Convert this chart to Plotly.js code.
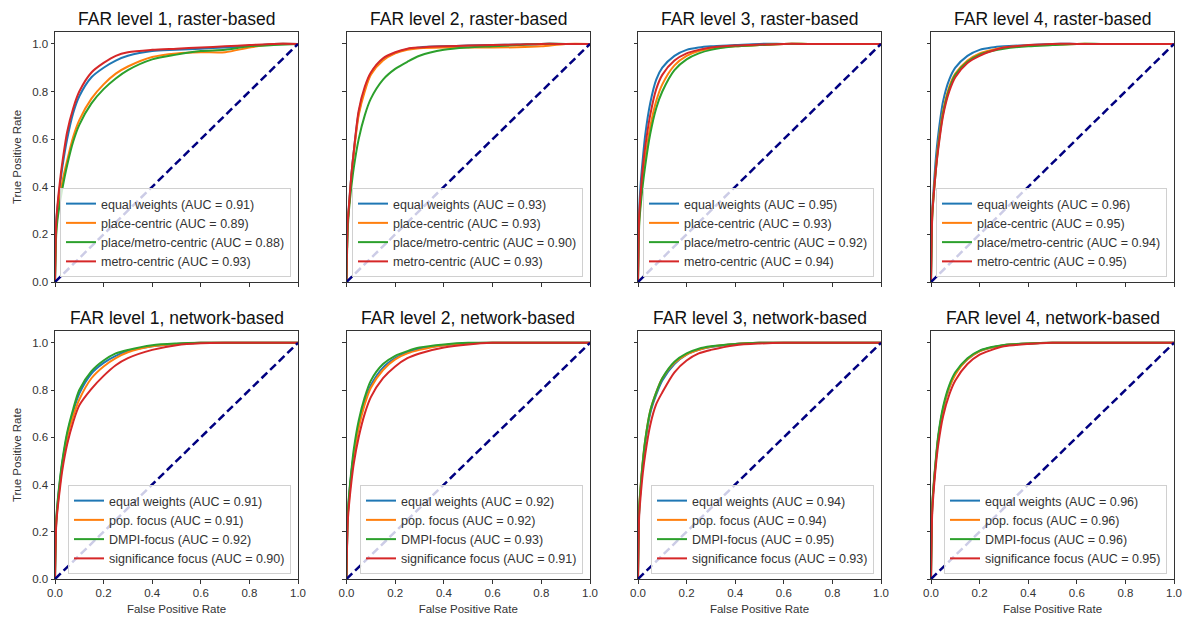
<!DOCTYPE html>
<html><head><meta charset="utf-8">
<script src="https://cdn.plot.ly/plotly-3.0.1.min.js"></script>
<style>html,body{margin:0;padding:0;background:#fff}#chart{width:1191px;height:620px}</style>
</head><body><div id="chart"></div>
<script>
// ---------- DATA ----------
const fpr = [0, 0.005, 0.01, 0.02, 0.03, 0.05, 0.075, 0.1, 0.15, 0.2, 0.25, 0.3, 0.4, 0.5, 0.6, 0.7, 0.8, 0.9, 1.0];
const chanceX = [0, 1];
const chanceY = [0, 1];

const panelTitles = [
  'FAR level 1, raster-based', 'FAR level 2, raster-based', 'FAR level 3, raster-based', 'FAR level 4, raster-based',
  'FAR level 1, network-based', 'FAR level 2, network-based', 'FAR level 3, network-based', 'FAR level 4, network-based'
];
const rasterNames = ['equal weights', 'place-centric', 'place/metro-centric', 'metro-centric'];
const networkNames = ['equal weights', 'pop. focus', 'DMPI-focus', 'significance focus'];

const aucRasterL1 = [0.91, 0.89, 0.88, 0.93];
const aucRasterL2 = [0.93, 0.93, 0.90, 0.93];
const aucRasterL3 = [0.95, 0.93, 0.92, 0.94];
const aucRasterL4 = [0.96, 0.95, 0.94, 0.95];
const aucNetworkL1 = [0.91, 0.91, 0.92, 0.90];
const aucNetworkL2 = [0.92, 0.92, 0.93, 0.91];
const aucNetworkL3 = [0.94, 0.94, 0.95, 0.93];
const aucNetworkL4 = [0.96, 0.96, 0.96, 0.95];

// TPR values read at the fpr points above
const rasterL1Equal      = [0, 0.25, 0.31, 0.40, 0.48, 0.60, 0.71, 0.78, 0.86, 0.90, 0.93, 0.95, 0.97, 0.975, 0.98, 0.985, 0.99, 1.0, 1.0];
const rasterL1Place      = [0, 0.22, 0.28, 0.36, 0.42, 0.51, 0.61, 0.68, 0.77, 0.83, 0.875, 0.905, 0.945, 0.96, 0.965, 0.965, 0.985, 1.0, 1.0];
const rasterL1PlaceMetro = [0, 0.20, 0.26, 0.33, 0.39, 0.49, 0.59, 0.66, 0.75, 0.81, 0.855, 0.89, 0.935, 0.955, 0.97, 0.975, 0.99, 0.995, 1.0];
const rasterL1Metro      = [0, 0.25, 0.32, 0.42, 0.50, 0.63, 0.73, 0.80, 0.88, 0.92, 0.95, 0.965, 0.975, 0.98, 0.985, 0.99, 0.995, 1.0, 1.0];

const rasterL2Equal      = [0, 0.25, 0.32, 0.45, 0.55, 0.71, 0.81, 0.875, 0.935, 0.962, 0.978, 0.985, 0.99, 0.993, 0.995, 0.997, 1, 1, 1];
const rasterL2Place      = [0, 0.24, 0.31, 0.44, 0.54, 0.70, 0.80, 0.87, 0.93, 0.96, 0.975, 0.982, 0.985, 0.985, 0.985, 0.986, 0.99, 1, 1];
const rasterL2PlaceMetro = [0, 0.22, 0.30, 0.40, 0.48, 0.60, 0.70, 0.77, 0.85, 0.895, 0.925, 0.95, 0.975, 0.985, 0.99, 0.995, 1, 1, 1];
const rasterL2Metro      = [0, 0.25, 0.32, 0.45, 0.55, 0.72, 0.82, 0.88, 0.94, 0.965, 0.98, 0.985, 0.99, 0.993, 0.995, 0.997, 1, 1, 1];

const rasterL3Equal      = [0, 0.30, 0.40, 0.52, 0.62, 0.75, 0.85, 0.90, 0.95, 0.975, 0.985, 0.99, 0.995, 1, 1, 1, 1, 1, 1];
const rasterL3Place      = [0, 0.26, 0.33, 0.44, 0.52, 0.65, 0.76, 0.83, 0.91, 0.95, 0.97, 0.98, 0.99, 0.995, 1, 1, 1, 1, 1];
const rasterL3PlaceMetro = [0, 0.24, 0.31, 0.41, 0.49, 0.62, 0.73, 0.80, 0.89, 0.935, 0.96, 0.975, 0.99, 0.995, 1, 1, 1, 1, 1];
const rasterL3Metro      = [0, 0.28, 0.36, 0.48, 0.57, 0.70, 0.81, 0.87, 0.93, 0.96, 0.975, 0.985, 0.993, 0.997, 1, 1, 1, 1, 1];

const rasterL4Equal      = [0, 0.30, 0.38, 0.52, 0.62, 0.76, 0.85, 0.90, 0.95, 0.975, 0.985, 0.99, 0.995, 1, 1, 1, 1, 1, 1];
const rasterL4Place      = [0, 0.28, 0.36, 0.48, 0.58, 0.72, 0.82, 0.875, 0.93, 0.96, 0.975, 0.985, 0.993, 0.997, 1, 1, 1, 1, 1];
const rasterL4PlaceMetro = [0, 0.27, 0.35, 0.47, 0.57, 0.71, 0.81, 0.87, 0.925, 0.955, 0.97, 0.98, 0.99, 0.995, 1, 1, 1, 1, 1];
const rasterL4Metro      = [0, 0.28, 0.35, 0.47, 0.56, 0.70, 0.80, 0.86, 0.92, 0.95, 0.97, 0.985, 0.995, 1, 1, 1, 1, 1, 1];

const networkL1Equal  = [0, 0.24, 0.31, 0.41, 0.49, 0.61, 0.71, 0.785, 0.87, 0.915, 0.945, 0.965, 0.985, 0.995, 1, 1, 1, 1, 1];
const networkL1Pop    = [0, 0.24, 0.30, 0.40, 0.48, 0.60, 0.69, 0.76, 0.85, 0.90, 0.935, 0.96, 0.985, 0.995, 1, 1, 1, 1, 1];
const networkL1Dmpi   = [0, 0.25, 0.32, 0.42, 0.50, 0.62, 0.72, 0.80, 0.88, 0.925, 0.955, 0.97, 0.99, 0.997, 1, 1, 1, 1, 1];
const networkL1Signif = [0, 0.23, 0.29, 0.38, 0.46, 0.57, 0.665, 0.735, 0.805, 0.86, 0.905, 0.935, 0.97, 0.99, 0.998, 1, 1, 1, 1];

const networkL2Equal  = [0, 0.26, 0.34, 0.45, 0.53, 0.65, 0.75, 0.82, 0.895, 0.935, 0.96, 0.975, 0.99, 0.998, 1, 1, 1, 1, 1];
const networkL2Pop    = [0, 0.26, 0.33, 0.44, 0.52, 0.64, 0.74, 0.81, 0.885, 0.93, 0.955, 0.97, 0.99, 0.997, 1, 1, 1, 1, 1];
const networkL2Dmpi   = [0, 0.27, 0.35, 0.46, 0.55, 0.67, 0.77, 0.84, 0.91, 0.945, 0.965, 0.98, 0.993, 1, 1, 1, 1, 1, 1];
const networkL2Signif = [0, 0.24, 0.31, 0.41, 0.49, 0.60, 0.70, 0.77, 0.85, 0.90, 0.935, 0.955, 0.98, 0.993, 1, 1, 1, 1, 1];

const networkL3Equal  = [0, 0.29, 0.37, 0.49, 0.58, 0.70, 0.78, 0.84, 0.91, 0.95, 0.97, 0.982, 0.995, 1, 1, 1, 1, 1, 1];
const networkL3Pop    = [0, 0.30, 0.38, 0.50, 0.59, 0.71, 0.79, 0.85, 0.915, 0.95, 0.97, 0.983, 0.995, 1, 1, 1, 1, 1, 1];
const networkL3Dmpi   = [0, 0.30, 0.38, 0.50, 0.59, 0.71, 0.79, 0.85, 0.92, 0.955, 0.975, 0.985, 0.995, 1, 1, 1, 1, 1, 1];
const networkL3Signif = [0, 0.27, 0.34, 0.45, 0.53, 0.65, 0.74, 0.79, 0.875, 0.925, 0.955, 0.97, 0.99, 0.997, 1, 1, 1, 1, 1];

const networkL4Equal  = [0, 0.30, 0.38, 0.50, 0.60, 0.72, 0.81, 0.87, 0.93, 0.965, 0.98, 0.99, 0.997, 1, 1, 1, 1, 1, 1];
const networkL4Pop    = [0, 0.30, 0.38, 0.50, 0.60, 0.72, 0.81, 0.865, 0.93, 0.964, 0.98, 0.99, 0.997, 1, 1, 1, 1, 1, 1];
const networkL4Dmpi   = [0, 0.31, 0.39, 0.51, 0.61, 0.73, 0.82, 0.875, 0.935, 0.967, 0.982, 0.991, 0.997, 1, 1, 1, 1, 1, 1];
const networkL4Signif = [0, 0.28, 0.36, 0.48, 0.57, 0.69, 0.78, 0.84, 0.91, 0.95, 0.97, 0.985, 0.995, 1, 1, 1, 1, 1, 1];

const tickVals = [0, 0.2, 0.4, 0.6, 0.8, 1.0];
const tickText = ['0.0', '0.2', '0.4', '0.6', '0.8', '1.0'];

// ---------- ASSEMBLY ----------
const panels = [
  {names: rasterNames, auc: aucRasterL1, tpr: [rasterL1Equal, rasterL1Place, rasterL1PlaceMetro, rasterL1Metro]},
  {names: rasterNames, auc: aucRasterL2, tpr: [rasterL2Equal, rasterL2Place, rasterL2PlaceMetro, rasterL2Metro]},
  {names: rasterNames, auc: aucRasterL3, tpr: [rasterL3Equal, rasterL3Place, rasterL3PlaceMetro, rasterL3Metro]},
  {names: rasterNames, auc: aucRasterL4, tpr: [rasterL4Equal, rasterL4Place, rasterL4PlaceMetro, rasterL4Metro]},
  {names: networkNames, auc: aucNetworkL1, tpr: [networkL1Equal, networkL1Pop, networkL1Dmpi, networkL1Signif]},
  {names: networkNames, auc: aucNetworkL2, tpr: [networkL2Equal, networkL2Pop, networkL2Dmpi, networkL2Signif]},
  {names: networkNames, auc: aucNetworkL3, tpr: [networkL3Equal, networkL3Pop, networkL3Dmpi, networkL3Signif]},
  {names: networkNames, auc: aucNetworkL4, tpr: [networkL4Equal, networkL4Pop, networkL4Dmpi, networkL4Signif]}
];

const colors = ['#1f77b4', '#ff7f0e', '#2ca02c', '#d62728'];
const FONT = 'Liberation Sans, Arial, sans-serif';
const W = 1191, H = 620;
const M = {l: 55, r: 17, t: 32, b: 41};
const PW = W - M.l - M.r, PH = H - M.t - M.b;
const colLeft = [55, 346.5, 638, 931], colRight = [298, 590, 881, 1174];
const rowTop = [32, 331], rowBottom = [282, 579];
const px2x = p => (p - M.l) / PW;
const py2y = p => (H - M.b - p) / PH;

const data = [];
const layout = {
  width: W, height: H,
  margin: M,
  paper_bgcolor: '#fff', plot_bgcolor: '#fff',
  font: {family: FONT, color: '#333'},
  showlegend: true,
  annotations: []
};

panels.forEach((p, i) => {
  const row = Math.floor(i / 4), col = i % 4;
  const sfx = i === 0 ? '' : String(i + 1);
  const xa = 'x' + sfx, ya = 'y' + sfx;
  const legKey = 'legend' + sfx;
  p.tpr.forEach((t, k) => {
    data.push({
      type: 'scatter', mode: 'lines', x: fpr, y: t,
      xaxis: xa, yaxis: ya, legend: legKey,
      name: p.names[k] + ' (AUC = ' + p.auc[k].toFixed(2) + ')',
      line: {color: colors[k], width: 2, shape: 'spline', smoothing: 0.8},
      hoverinfo: 'skip'
    });
  });
  data.push({
    type: 'scatter', mode: 'lines', x: chanceX, y: chanceY,
    xaxis: xa, yaxis: ya, showlegend: false,
    line: {color: '#000080', width: 2.5, dash: '8px,4px'}, hoverinfo: 'skip'
  });

  const xd = [px2x(colLeft[col]), px2x(colRight[col])];
  const yd = [py2y(rowBottom[row]), py2y(rowTop[row])];
  layout['xaxis' + sfx] = {
    domain: xd, anchor: ya, range: [0, 1],
    tickvals: tickVals, ticktext: tickText,
    ticks: 'outside', ticklen: 3.5, tickwidth: 1, tickcolor: '#333',
    showline: true, mirror: true, linecolor: '#333', linewidth: 1,
    showgrid: false, zeroline: false,
    showticklabels: row === 1,
    tickfont: {size: 11.5, color: '#333'},
    title: row === 1 ? {text: 'False Positive Rate', font: {size: 11.5, color: '#333'}, standoff: 6} : {text: ''},
    fixedrange: true
  };
  layout['yaxis' + sfx] = {
    domain: yd, anchor: xa, range: [0, 1.05],
    tickvals: tickVals, ticktext: tickText,
    ticks: 'outside', ticklen: 3.5, tickwidth: 1, tickcolor: '#333',
    showline: true, mirror: true, linecolor: '#333', linewidth: 1,
    showgrid: false, zeroline: false,
    showticklabels: col === 0,
    tickfont: {size: 11.5, color: '#333'},
    title: col === 0 ? {text: 'True Positive Rate', font: {size: 11.5, color: '#333'}, standoff: 8} : {text: ''},
    fixedrange: true
  };
  layout[legKey] = {
    x: px2x(colRight[col] - 7), y: py2y(rowBottom[row] - 5),
    xref: 'paper', yref: 'paper',
    xanchor: 'right', yanchor: 'bottom',
    bgcolor: 'rgba(255,255,255,0.8)', bordercolor: '#d0d0d0', borderwidth: 1,
    font: {family: FONT, size: 12.5, color: '#333'},
    itemwidth: 30, traceorder: 'normal'
  };
  layout.annotations.push({
    text: panelTitles[i], showarrow: false,
    xref: 'paper', yref: 'paper',
    x: (xd[0] + xd[1]) / 2, y: yd[1],
    xanchor: 'center', yanchor: 'bottom', yshift: 1,
    font: {family: FONT, size: 17.5, color: '#111'}
  });
});

Plotly.newPlot('chart', data, layout, {displayModeBar: false, staticPlot: true});
</script>
</body></html>
